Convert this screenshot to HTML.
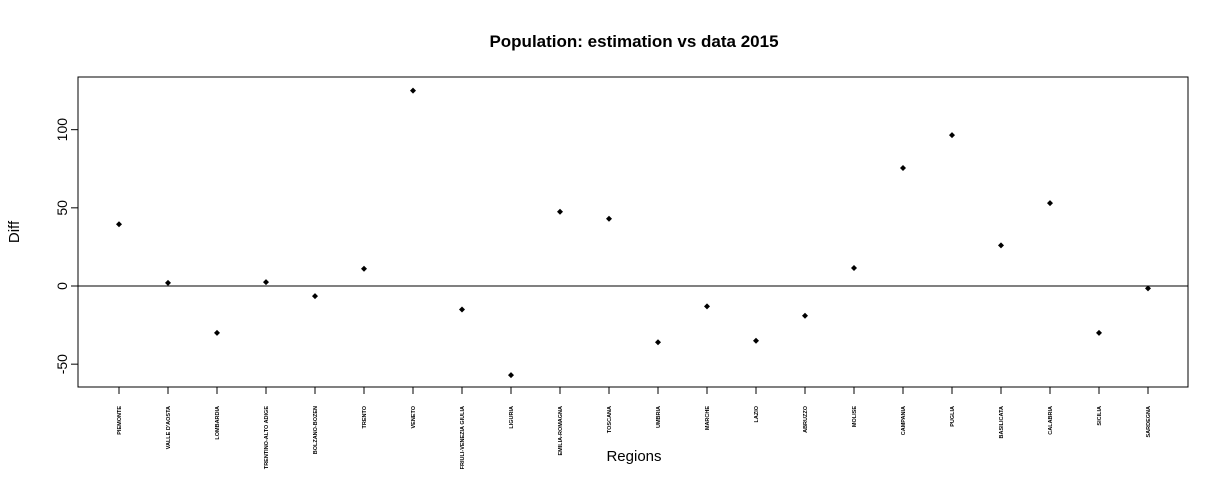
<!DOCTYPE html>
<html><head><meta charset="utf-8"><style>body{margin:0;background:#fff}svg{display:block;font-family:"Liberation Sans",Arial,sans-serif}</style></head>
<body>
<svg id="c" width="1230" height="485">
<text x="634" y="47" text-anchor="middle" font-size="17" font-weight="bold">Population: estimation vs data 2015</text>
<rect x="78" y="77" width="1110" height="310" fill="none" stroke="#000"/>
<text x="634" y="461" text-anchor="middle" font-size="15">Regions</text>
<text transform="translate(19,232) rotate(-90)" text-anchor="middle" font-size="15">Diff</text>
<g id="g"></g>
</svg>
<script>
const regions=["PIEMONTE","VALLE D'AOSTA","LOMBARDIA","TRENTINO-ALTO ADIGE","BOLZANO-BOZEN","TRENTO","VENETO","FRIULI-VENEZIA GIULIA","LIGURIA","EMILIA-ROMAGNA","TOSCANA","UMBRIA","MARCHE","LAZIO","ABRUZZO","MOLISE","CAMPANIA","PUGLIA","BASILICATA","CALABRIA","SICILIA","SARDEGNA"];
const diffs=[39.5,2,-30,2.5,-6.5,11,125,-15,-57,47.5,43,-36,-13,-35,-19,11.5,75.5,96.5,26,53,-30,-1.5];
const yTicks=[-50,0,50,100];
const NS="http://www.w3.org/2000/svg",g=document.getElementById('g');
const X=i=>119+i*49, Y=v=>286-v*1.5633;
function el(t,a){const e=document.createElementNS(NS,t);for(const k in a)e.setAttribute(k,a[k]);g.appendChild(e);return e;}
const zl=el('line',{x1:78,x2:1188,y1:Y(0),y2:Y(0),stroke:'#000'});


const ya=el('line',{x1:78,x2:78,y1:Y(-50),y2:Y(100),stroke:'#000'});


yTicks.forEach(v=>{
 const t=el('line',{x1:71,x2:78,y1:Y(v),y2:Y(v),stroke:'#000'});
 
 
 const l=el('text',{transform:`translate(67,${Y(v)}) rotate(-90)`,'text-anchor':'middle','font-size':14});
 l.textContent=v;
 
 
});
const xa=el('line',{x1:X(0),x2:X(regions.length-1),y1:387,y2:387,stroke:'#000'});


regions.forEach((r,i)=>{
 const t=el('line',{x1:X(i),x2:X(i),y1:387,y2:394,stroke:'#000'});
 
 
 const l=el('text',{transform:`translate(${X(i)+2},406) rotate(-90)`,'text-anchor':'end','font-size':5.5,'font-weight':'bold'});
 l.textContent=r;
 
 
 const p=el('path',{d:`M${X(i)} ${Y(diffs[i])-3}l3 3l-3 3l-3 -3z`,fill:'#000'});
 
 
});
</script>
</body></html>
